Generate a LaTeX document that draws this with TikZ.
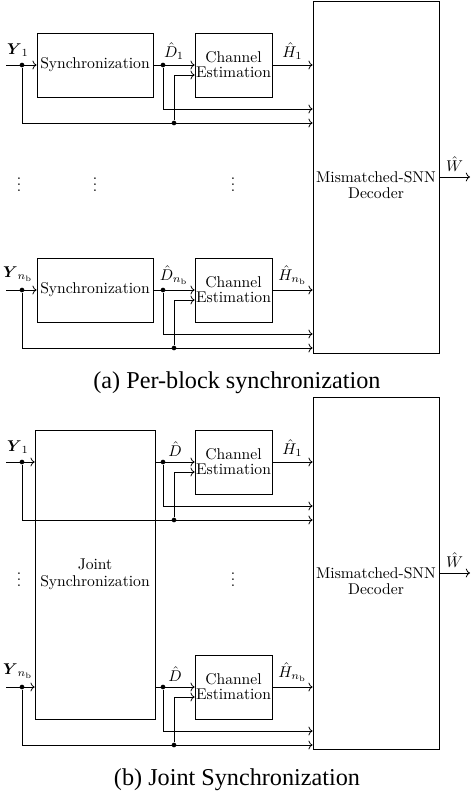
\documentclass[tikz,border=0pt]{standalone}
\usepackage{amsmath,amssymb}
\usepackage{fontspec}
\newfontfamily\capfont{Liberation Serif}
\usepackage{tikz}
\usetikzlibrary{positioning,arrows.meta,calc}

\begin{document}
\begin{tikzpicture}[x=0.0225cm, y=-0.0225cm, line width=0.5pt,
  syncbox/.style={draw, align=center, minimum width=2.61cm, minimum height=1.44cm, inner sep=1pt},
  chanbox/.style={draw, align=center, minimum width=1.73cm, minimum height=1.44cm, inner sep=0pt},
  decbox/.style={draw, minimum width=2.835cm, minimum height=7.92cm},
  junction/.style={circle, fill, inner sep=0pt, minimum size=3pt},
  captext/.style={font=\capfont\fontsize{15.5}{18}\selectfont, anchor=base}]
  \useasboundingbox (0,0) rectangle (471,795);

  % (a) per-block synchronization
  \node[decbox] (decA) at (376,177) {};
  \node[align=center] (decTxtA) at ($(decA.center)+(0,8)$) {Mismatched-SNN\\[-2pt]Decoder};
  \coordinate (outA) at (470,177);
  \draw[->] (decA) -- node[above] {$\hat{W}$} (outA);

  % block 1
  \coordinate (inA1) at (6,65);
  \node[junction, label={[xshift=-2.6pt]above:$\boldsymbol{Y}_1$}] (yA1) at (22,65) {};
  \node[syncbox] (syncA1) at (95,65) {Synchronization};
  \node[junction] (dA1) at (163,65) {};
  \node[chanbox] (chanA1) at (233.5,65) {Channel\\[-2.4pt]Estimation};
  \coordinate (dLA1) at (163,109);
  \node[junction] (jA1) at (174,123) {};
  \draw[->] (inA1) -- (syncA1);
  \draw[->] (syncA1) -- node[above] {$\hat{D}_1$} (chanA1);
  \draw[->] (chanA1) -- node[above] {$\hat{H}_1$} (chanA1 -| decA.west);
  \draw[->] (dA1) -- (dLA1) -- (dLA1 -| decA.west);
  \draw[->] (yA1) |- (jA1 -| decA.west);
  \draw[->] (jA1) |- ($(chanA1.west)+(0,10)$);

  % dots
  \node (vdA1) at (19,180) {$\vdots$};
  \node (vdA2) at (95,180) {$\vdots$};
  \node (vdA3) at (233,180) {$\vdots$};

  % block n_b
  \coordinate (inA2) at (6,290);
  \node[junction, label={[xshift=-2.6pt]above:$\boldsymbol{Y}_{n_{\mathrm{b}}}$}] (yA2) at (22,290) {};
  \node[syncbox] (syncA2) at (95,290) {Synchronization};
  \node[junction] (dA2) at (163,290) {};
  \node[chanbox] (chanA2) at (233.5,290) {Channel\\[-2.4pt]Estimation};
  \coordinate (dLA2) at (163,334);
  \node[junction] (jA2) at (174,348) {};
  \draw[->] (inA2) -- (syncA2);
  \draw[->] (syncA2) -- node[above] {$\hat{D}_{n_{\mathrm{b}}}$} (chanA2);
  \draw[->] (chanA2) -- node[above] {$\hat{H}_{n_{\mathrm{b}}}$} (chanA2 -| decA.west);
  \draw[->] (dA2) -- (dLA2) -- (dLA2 -| decA.west);
  \draw[->] (yA2) |- (jA2 -| decA.west);
  \draw[->] (jA2) |- ($(chanA2.west)+(0,10)$);

  \node[captext] (capA) at (237,388) {(a) Per-block synchronization};

  % (b) joint synchronization
  \node[decbox] (decB) at (376,573) {};
  \node[align=center] (decTxtB) at ($(decB.center)+(0,8)$) {Mismatched-SNN\\[-2pt]Decoder};
  \coordinate (outB) at (470,573);
  \draw[->] (decB) -- node[above] {$\hat{W}$} (outB);
  \node[draw, align=center, minimum width=2.61cm, minimum height=6.5cm] (jointB) at (95,574.5) {Joint\\[-1pt]Synchronization};

  % block 1
  \coordinate (inB1) at (6,462);
  \node[junction, label={[xshift=-2.6pt]above:$\boldsymbol{Y}_1$}] (yB1) at (22,462) {};
  \node[junction] (dB1) at (163,462) {};
  \node[chanbox] (chanB1) at (233.5,462) {Channel\\[-2.4pt]Estimation};
  \coordinate (dLB1) at (163,506);
  \node[junction] (jB1) at (174,520) {};
  \draw[->] (inB1) -- (inB1 -| jointB.west);
  \draw[->] (chanB1 -| jointB.east) -- node[above] {$\hat{D}$} (chanB1);
  \draw[->] (chanB1) -- node[above] {$\hat{H}_1$} (chanB1 -| decB.west);
  \draw[->] (dB1) -- (dLB1) -- (dLB1 -| decB.west);
  \draw[->] (yB1) |- (jB1 -| decB.west);
  \draw[->] (jB1) |- ($(chanB1.west)+(0,10)$);

  % dots
  \node (vdB1) at (19,575) {$\vdots$};
  \node (vdB3) at (233,575) {$\vdots$};

  % block n_b
  \coordinate (inB2) at (6,687);
  \node[junction, label={[xshift=-2.6pt]above:$\boldsymbol{Y}_{n_{\mathrm{b}}}$}] (yB2) at (22,687) {};
  \node[junction] (dB2) at (163,687) {};
  \node[chanbox] (chanB2) at (233.5,687) {Channel\\[-2.4pt]Estimation};
  \coordinate (dLB2) at (163,731);
  \node[junction] (jB2) at (174,745) {};
  \draw[->] (inB2) -- (inB2 -| jointB.west);
  \draw[->] (chanB2 -| jointB.east) -- node[above] {$\hat{D}$} (chanB2);
  \draw[->] (chanB2) -- node[above] {$\hat{H}_{n_{\mathrm{b}}}$} (chanB2 -| decB.west);
  \draw[->] (dB2) -- (dLB2) -- (dLB2 -| decB.west);
  \draw[->] (yB2) |- (jB2 -| decB.west);
  \draw[->] (jB2) |- ($(chanB2.west)+(0,10)$);

  \node[captext] (capB) at (237,785) {(b) Joint Synchronization};
\end{tikzpicture}
\end{document}
